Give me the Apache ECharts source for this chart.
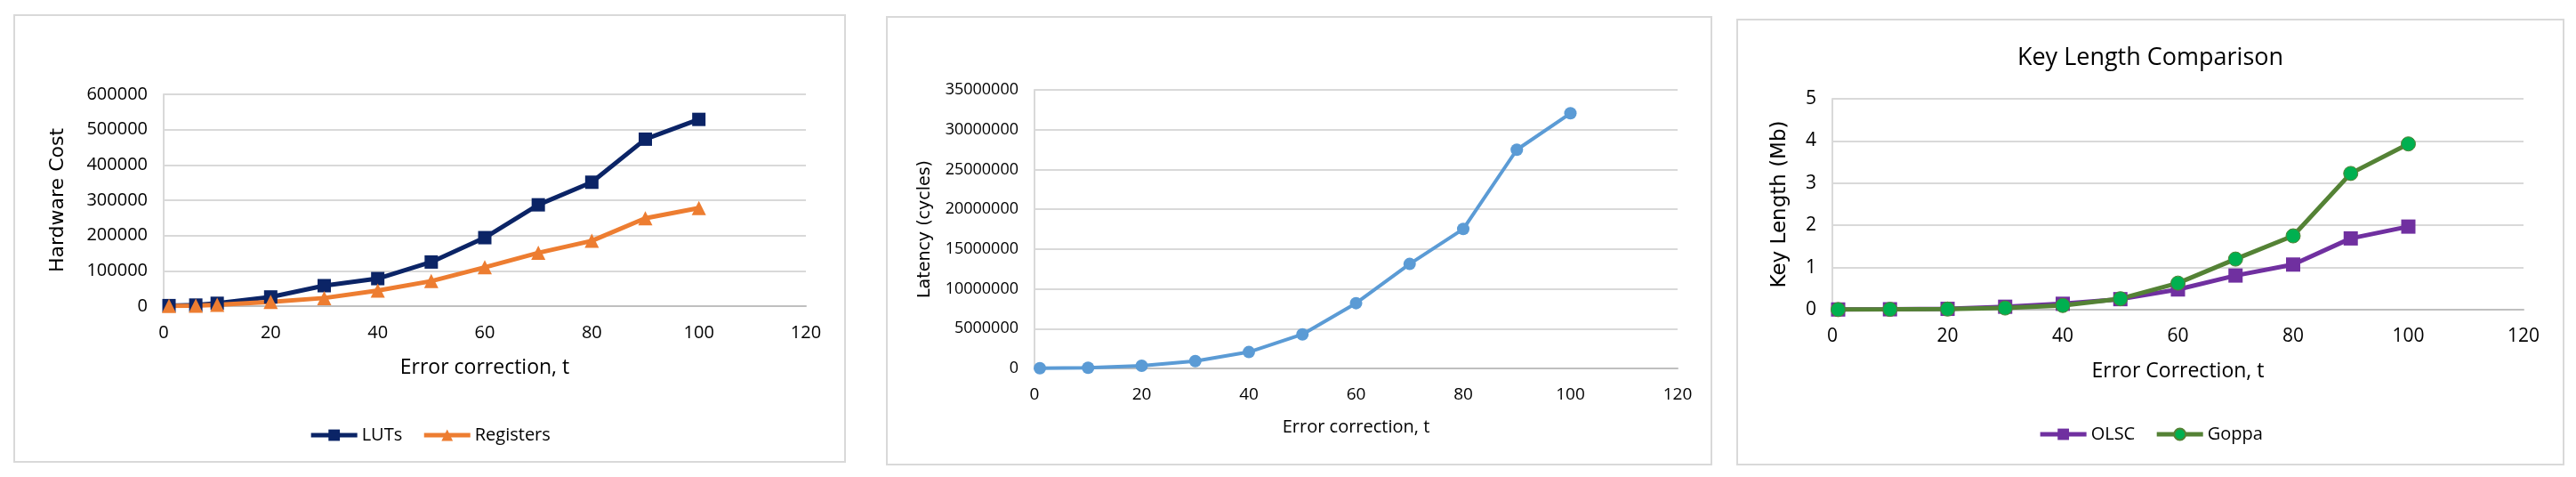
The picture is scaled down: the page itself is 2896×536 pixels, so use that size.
<!DOCTYPE html>
<html>
<head>
<meta charset="UTF-8">
<title>Hardware cost, latency and key length</title>
<script src="https://cdn.jsdelivr.net/npm/echarts@6/dist/echarts.min.js"></script>
<style>
  html, body { margin: 0; padding: 0; background: #fff; }
  body { width: 2896px; height: 536px; position: relative; overflow: hidden; }
  .panel { position: absolute; border: 2px solid #d9d9d9; box-sizing: border-box; background: #fff; }
</style>
</head>
<body>
<div class="panel" id="hw" style="left:15px;top:16px;width:936px;height:504px;"></div>
<div class="panel" id="lat" style="left:996px;top:18px;width:929px;height:505px;"></div>
<div class="panel" id="key" style="left:1952px;top:21px;width:931px;height:502px;"></div>
<script>
// error correction capability t
var tHw = [1, 6, 10, 20, 30, 40, 50, 60, 70, 80, 90, 100];
var tLat = [1, 10, 20, 30, 40, 50, 60, 70, 80, 90, 100];
var tKey = [1, 10, 20, 30, 40, 50, 60, 70, 80, 90, 100];

// hardware cost
var luts = [1500, 3000, 8000, 26000, 58000, 78000, 125000, 194000, 287000, 351000, 473000, 529000];
var registers = [500, 1500, 4000, 12000, 23000, 44000, 71000, 110000, 151000, 185000, 249000, 278000];

// latency (cycles)
var latency = [30000, 90000, 340000, 920000, 2060000, 4280000, 8200000, 13130000, 17520000, 27480000, 32060000];

// key length (Mb)
var olsc = [0.005, 0.01, 0.02, 0.07, 0.14, 0.25, 0.48, 0.81, 1.07, 1.69, 1.97];
var goppa = [0.003, 0.008, 0.015, 0.04, 0.1, 0.26, 0.63, 1.2, 1.75, 3.23, 3.93];

var FONT = 'Open Sans';
var NAMEFONT = 'DejaVu Sans';

function pairs(xs, ys) {
  return xs.map(function (x, i) { return [x, ys[i]]; });
}

function xAxisOpt(labelSize, nameSize, nameGap, name) {
  return {
    type: 'value', min: 0, max: 120, interval: 20,
    name: name, nameLocation: 'middle', nameGap: nameGap,
    nameTextStyle: { fontFamily: FONT, fontSize: nameSize, color: '#000' },
    axisLine: { show: true, onZero: false, lineStyle: { color: '#bfbfbf', width: 2 } },
    axisTick: { show: false },
    splitLine: { show: false },
    axisLabel: { fontFamily: FONT, fontSize: labelSize, color: '#000', margin: 20 }
  };
}

function yAxisOpt(max, step, labelSize, name, nameSize, nameGap) {
  return {
    type: 'value', min: 0, max: max, interval: step,
    name: name, nameLocation: 'middle', nameGap: nameGap,
    nameTextStyle: { fontFamily: NAMEFONT, fontSize: nameSize, color: '#000' },
    axisLine: { show: true, lineStyle: { color: '#d9d9d9', width: 2 } },
    axisTick: { show: false },
    splitLine: { show: true, lineStyle: { color: '#d9d9d9', width: 2 } },
    axisLabel: { fontFamily: FONT, fontSize: labelSize, color: '#000', margin: 18,
      formatter: function (v) { return String(v); } }
  };
}

var hwChart = echarts.init(document.getElementById('hw'));
hwChart.setOption({
  animation: false,
  grid: { left: 167, top: 88, width: 722, height: 238, outerBoundsMode: 'none' },
  xAxis: xAxisOpt(20, 23, 58, 'Error correction, t'),
  yAxis: yAxisOpt(600000, 100000, 20, 'Hardware Cost', 22, 108),
  legend: {
    bottom: 14, left: 'center', itemWidth: 52, itemHeight: 16, itemGap: 22,
    lineStyle: { width: 5 },
    textStyle: { fontFamily: FONT, fontSize: 20, color: '#000' },
    data: ['LUTs', 'Registers']
  },
  series: [
    {
      name: 'LUTs', type: 'line', data: pairs(tHw, luts),
      symbol: 'rect', symbolSize: 15,
      lineStyle: { color: '#0b2466', width: 5 },
      itemStyle: { color: '#0b2466' }
    },
    {
      name: 'Registers', type: 'line', data: pairs(tHw, registers),
      symbol: 'triangle', symbolSize: 16,
      lineStyle: { color: '#ed7d31', width: 5 },
      itemStyle: { color: '#ed7d31' }
    }
  ]
});

var latChart = echarts.init(document.getElementById('lat'));
latChart.setOption({
  animation: false,
  grid: { left: 165, top: 81, width: 723, height: 313, outerBoundsMode: 'none' },
  xAxis: xAxisOpt(19, 20, 56, 'Error correction, t'),
  yAxis: yAxisOpt(35000000, 5000000, 18, 'Latency (cycles)', 19, 113),
  series: [
    {
      name: 'Latency', type: 'line', data: pairs(tLat, latency),
      symbol: 'circle', symbolSize: 14,
      lineStyle: { color: '#5b9bd5', width: 4 },
      itemStyle: { color: '#5b9bd5' }
    }
  ]
});

var keyChart = echarts.init(document.getElementById('key'));
keyChart.setOption({
  animation: false,
  title: {
    text: 'Key Length Comparison', left: 'center', top: 24,
    textStyle: { fontFamily: FONT, fontSize: 27, fontWeight: 'normal', color: '#000' }
  },
  grid: { left: 106, top: 88, width: 777, height: 237, outerBoundsMode: 'none' },
  xAxis: xAxisOpt(21, 23, 58, 'Error Correction, t'),
  yAxis: yAxisOpt(5, 1, 21, 'Key Length (Mb)', 23, 47),
  legend: {
    bottom: 18, left: 'center', itemWidth: 52, itemHeight: 16, itemGap: 22,
    lineStyle: { width: 5 },
    textStyle: { fontFamily: FONT, fontSize: 20, color: '#000' },
    data: ['OLSC', 'Goppa']
  },
  series: [
    {
      name: 'OLSC', type: 'line', data: pairs(tKey, olsc),
      symbol: 'rect', symbolSize: 16,
      lineStyle: { color: '#7030a0', width: 5 },
      itemStyle: { color: '#7030a0' }
    },
    {
      name: 'Goppa', type: 'line', data: pairs(tKey, goppa),
      symbol: 'circle', symbolSize: 16,
      lineStyle: { color: '#548235', width: 5 },
      itemStyle: { color: '#00b050', borderColor: '#548235', borderWidth: 1 }
    }
  ]
});
</script>
</body>
</html>
